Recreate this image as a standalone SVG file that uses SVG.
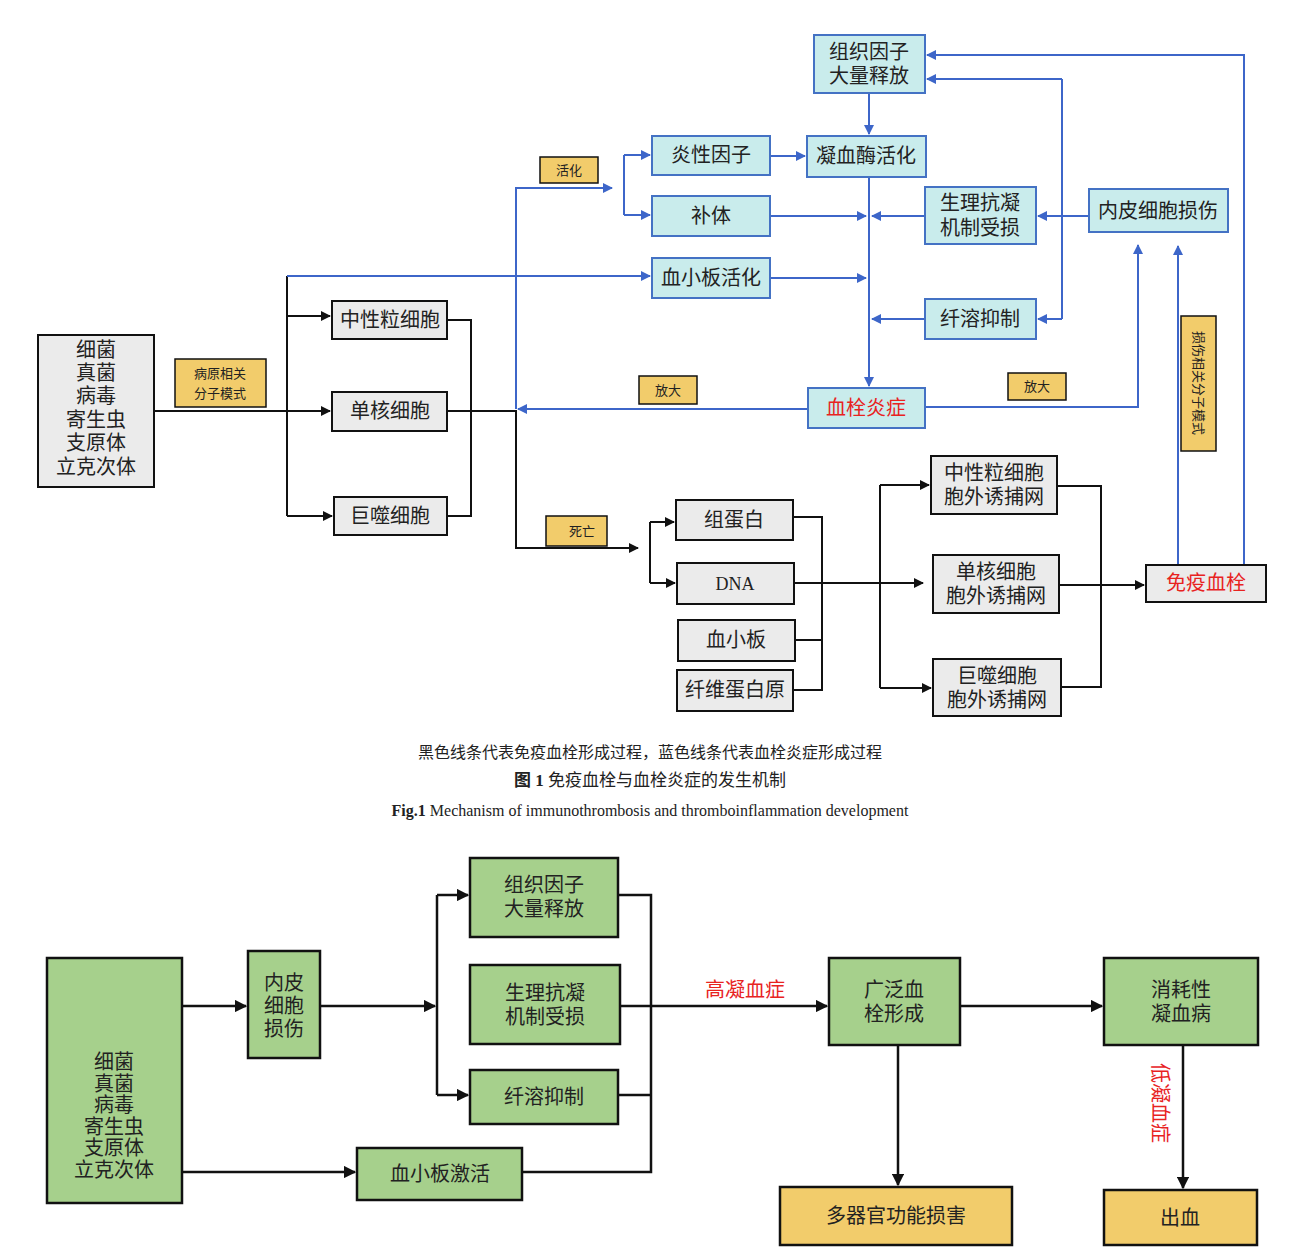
<svg xmlns="http://www.w3.org/2000/svg" width="1306" height="1257" viewBox="0 0 1306 1257">
<style>
text{font-family:"Liberation Serif","Noto Sans CJK SC",serif;fill:#222;text-anchor:middle;dominant-baseline:central}
.g rect{fill:#ebebeb;stroke:#111;stroke-width:2}
.b rect{fill:#c9ecec;stroke:#4472c4;stroke-width:2}
.y rect{fill:#f2cc6b;stroke:#111;stroke-width:1.5}
.gr rect{fill:#a6d08c;stroke:#111;stroke-width:2.5}
.t18{font-size:18px}.t14{font-size:13px}.t20{font-size:20px}
.red{fill:#e8231f}
.k{fill:none;stroke:#111;stroke-width:2}
.k2{fill:none;stroke:#111;stroke-width:2.5}
.bl{fill:none;stroke:#3d66c9;stroke-width:2}
</style>
<defs>
<marker id="ak" viewBox="0 0 10 10" refX="9" refY="5" markerWidth="5" markerHeight="5" orient="auto"><path d="M0,0L10,5L0,10z" fill="#111"/></marker>
<marker id="ab" viewBox="0 0 10 10" refX="9" refY="5" markerWidth="5" markerHeight="5" orient="auto"><path d="M0,0L10,5L0,10z" fill="#3d66c9"/></marker>
</defs>
<rect width="1306" height="1257" fill="#fff"/>
<g id="connectors">
<path class="k" d="M154,411H330" marker-end="url(#ak)"/>
<path class="k" d="M287,276V516"/>
<path class="k" d="M287,316H330" marker-end="url(#ak)"/>
<path class="k" d="M287,516H332" marker-end="url(#ak)"/>
<path class="k" d="M447,320H471V516H447M447,411H516V548H638" marker-end="url(#ak)"/>
<path class="k" d="M650,522V583"/>
<path class="k" d="M650,522H674" marker-end="url(#ak)"/>
<path class="k" d="M650,583H675" marker-end="url(#ak)"/>
<path class="k" d="M793,517H822V690H793M795,640H822"/>
<path class="k" d="M794,583H923" marker-end="url(#ak)"/>
<path class="k" d="M880,485V688"/>
<path class="k" d="M880,485H929" marker-end="url(#ak)"/>
<path class="k" d="M880,688H931" marker-end="url(#ak)"/>
<path class="k" d="M1057,486H1101V687H1061M1059,585H1144" marker-end="url(#ak)"/>
<path class="bl" d="M287,276H650" marker-end="url(#ab)"/>
<path class="bl" d="M516,409V188H612" marker-end="url(#ab)"/>
<path class="bl" d="M624,155V215"/>
<path class="bl" d="M624,155H650" marker-end="url(#ab)"/>
<path class="bl" d="M624,215H650" marker-end="url(#ab)"/>
<path class="bl" d="M770,156H805" marker-end="url(#ab)"/>
<path class="bl" d="M869,93V134" marker-end="url(#ab)"/>
<path class="bl" d="M869,177V386" marker-end="url(#ab)"/>
<path class="bl" d="M770,216H866" marker-end="url(#ab)"/>
<path class="bl" d="M770,278H866" marker-end="url(#ab)"/>
<path class="bl" d="M925,216H872" marker-end="url(#ab)"/>
<path class="bl" d="M925,319H872" marker-end="url(#ab)"/>
<path class="bl" d="M1089,216H1038" marker-end="url(#ab)"/>
<path class="bl" d="M1062,79V319"/>
<path class="bl" d="M1062,79H927" marker-end="url(#ab)"/>
<path class="bl" d="M1062,319H1038" marker-end="url(#ab)"/>
<path class="bl" d="M1244,565V55H927" marker-end="url(#ab)"/>
<path class="bl" d="M808,409H518" marker-end="url(#ab)"/>
<path class="bl" d="M925,407H1138V245" marker-end="url(#ab)"/>
<path class="bl" d="M1178,565V246" marker-end="url(#ab)"/>
<path class="k2" d="M182,1006H246" marker-end="url(#ak)"/>
<path class="k2" d="M182,1172H355" marker-end="url(#ak)"/>
<path class="k2" d="M320,1006H435" marker-end="url(#ak)"/>
<path class="k2" d="M437,895V1095"/>
<path class="k2" d="M437,895H468" marker-end="url(#ak)"/>
<path class="k2" d="M437,1095H468" marker-end="url(#ak)"/>
<path class="k2" d="M618,895H651V1172H522M620,1006H651M618,1095H651"/>
<path class="k2" d="M651,1006H827" marker-end="url(#ak)"/>
<path class="k2" d="M960,1006H1102" marker-end="url(#ak)"/>
<path class="k2" d="M898,1045V1185" marker-end="url(#ak)"/>
<path class="k2" d="M1183,1045V1188" marker-end="url(#ak)"/>
</g>
<g id="pathogens" class="g"><rect x="38" y="335" width="116" height="152"/>
<text class="t20" x="96" y="350">细菌</text><text class="t20" x="96" y="373">真菌</text><text class="t20" x="96" y="396">病毒</text><text class="t20" x="96" y="420">寄生虫</text><text class="t20" x="96" y="443">支原体</text><text class="t20" x="96" y="467">立克次体</text></g>
<g id="pamp" class="y"><rect x="175" y="359" width="91" height="48"/><text class="t14" x="220" y="373">病原相关</text><text class="t14" x="220" y="393">分子模式</text></g>
<g id="neutro" class="g"><rect x="332" y="301" width="115" height="38"/><text class="t20" x="390" y="320">中性粒细胞</text></g>
<g id="mono" class="g"><rect x="332" y="392" width="115" height="39"/><text class="t20" x="390" y="411">单核细胞</text></g>
<g id="macro" class="g"><rect x="334" y="497" width="113" height="38"/><text class="t20" x="390" y="516">巨噬细胞</text></g>
<g id="act" class="y"><rect x="540" y="157" width="58" height="26"/><text class="t14" x="569" y="170">活化</text></g>
<g id="death" class="y"><rect x="546" y="516" width="61" height="30"/><text class="t14" x="582" y="531">死亡</text></g>
<g id="amp1" class="y"><rect x="639" y="376" width="58" height="28"/><text class="t14" x="668" y="390">放大</text></g>
<g id="amp2" class="y"><rect x="1008" y="373" width="58" height="27"/><text class="t14" x="1037" y="386">放大</text></g>
<g id="damp" class="y"><rect x="1181" y="316" width="35" height="135"/><text class="t14" transform="translate(1198,383) rotate(90)">损伤相关分子模式</text></g>
<g id="infl" class="b"><rect x="652" y="136" width="118" height="39"/><text class="t20" x="711" y="155">炎性因子</text></g>
<g id="comp" class="b"><rect x="652" y="196" width="118" height="40"/><text class="t20" x="711" y="216">补体</text></g>
<g id="plt" class="b"><rect x="652" y="258" width="118" height="40"/><text class="t20" x="711" y="278">血小板活化</text></g>
<g id="thromb" class="b"><rect x="807" y="136" width="119" height="41"/><text class="t20" x="866" y="156">凝血酶活化</text></g>
<g id="tf" class="b"><rect x="814" y="35" width="111" height="58"/><text class="t20" x="869" y="52">组织因子</text><text class="t20" x="869" y="76">大量释放</text></g>
<g id="anticoag" class="b"><rect x="925" y="187" width="111" height="57"/><text class="t20" x="980" y="203">生理抗凝</text><text class="t20" x="980" y="228">机制受损</text></g>
<g id="fib" class="b"><rect x="925" y="299" width="111" height="40"/><text class="t20" x="980" y="319">纤溶抑制</text></g>
<g id="endo" class="b"><rect x="1089" y="189" width="139" height="43"/><text class="t20" x="1158" y="211">内皮细胞损伤</text></g>
<g id="ti" class="b"><rect x="808" y="388" width="117" height="40"/><text class="t20 red" x="866" y="408">血栓炎症</text></g>
<g id="histone" class="g"><rect x="676" y="500" width="117" height="40"/><text class="t20" x="734" y="520">组蛋白</text></g>
<g id="dna" class="g"><rect x="677" y="563" width="117" height="41"/><text class="t18" x="735" y="584">DNA</text></g>
<g id="platelet" class="g"><rect x="678" y="620" width="117" height="41"/><text class="t20" x="736" y="640">血小板</text></g>
<g id="fibrinogen" class="g"><rect x="677" y="670" width="116" height="41"/><text class="t20" x="735" y="690">纤维蛋白原</text></g>
<g id="net1" class="g"><rect x="931" y="456" width="126" height="58"/><text class="t20" x="994" y="473">中性粒细胞</text><text class="t20" x="994" y="497">胞外诱捕网</text></g>
<g id="net2" class="g"><rect x="933" y="555" width="126" height="58"/><text class="t20" x="996" y="572">单核细胞</text><text class="t20" x="996" y="596">胞外诱捕网</text></g>
<g id="net3" class="g"><rect x="933" y="659" width="128" height="57"/><text class="t20" x="997" y="676">巨噬细胞</text><text class="t20" x="997" y="700">胞外诱捕网</text></g>
<g id="it" class="g"><rect x="1146" y="565" width="120" height="37"/><text class="t20 red" x="1206" y="583">免疫血栓</text></g>
<g id="captions">
<text x="650" y="752" style="font-size:16px">黑色线条代表免疫血栓形成过程，蓝色线条代表血栓炎症形成过程</text>
<text x="650" y="780" style="font-size:17px"><tspan font-weight="bold">图 1</tspan>  免疫血栓与血栓炎症的发生机制</text>
<text x="650" y="810" style="font-size:16px"><tspan font-weight="bold">Fig.1</tspan>   Mechanism of immunothrombosis and thromboinflammation development</text>
</g>
<g id="b_path" class="gr"><rect x="47" y="958" width="135" height="245"/>
<text class="t20" x="114" y="1062">细菌</text><text class="t20" x="114" y="1084">真菌</text><text class="t20" x="114" y="1105">病毒</text><text class="t20" x="114" y="1127">寄生虫</text><text class="t20" x="114" y="1148">支原体</text><text class="t20" x="114" y="1170">立克次体</text></g>
<g id="b_endo" class="gr"><rect x="248" y="951" width="72" height="107"/><text class="t20" x="284" y="983">内皮</text><text class="t20" x="284" y="1006">细胞</text><text class="t20" x="284" y="1029">损伤</text></g>
<g id="b_tf" class="gr"><rect x="470" y="858" width="148" height="79"/><text class="t20" x="544" y="885">组织因子</text><text class="t20" x="544" y="909">大量释放</text></g>
<g id="b_ac" class="gr"><rect x="470" y="965" width="150" height="79"/><text class="t20" x="545" y="993">生理抗凝</text><text class="t20" x="545" y="1017">机制受损</text></g>
<g id="b_fib" class="gr"><rect x="470" y="1070" width="148" height="54"/><text class="t20" x="544" y="1097">纤溶抑制</text></g>
<g id="b_plt" class="gr"><rect x="357" y="1148" width="165" height="52"/><text class="t20" x="440" y="1174">血小板激活</text></g>
<text class="t20 red" x="745" y="990">高凝血症</text>
<g id="b_wide" class="gr"><rect x="829" y="958" width="131" height="87"/><text class="t20" x="894" y="990">广泛血</text><text class="t20" x="894" y="1014">栓形成</text></g>
<g id="b_dic" class="gr"><rect x="1104" y="958" width="154" height="87"/><text class="t20" x="1181" y="990">消耗性</text><text class="t20" x="1181" y="1014">凝血病</text></g>
<text class="t20 red" transform="translate(1160,1103) rotate(90)">低凝血症</text>
<g id="b_mods" class="y"><rect x="780" y="1187" width="232" height="58" style="stroke-width:2.5"/><text class="t20" x="896" y="1216">多器官功能损害</text></g>
<g id="b_bleed" class="y"><rect x="1104" y="1190" width="153" height="55" style="stroke-width:2.5"/><text class="t20" x="1180" y="1218">出血</text></g>
</svg>
